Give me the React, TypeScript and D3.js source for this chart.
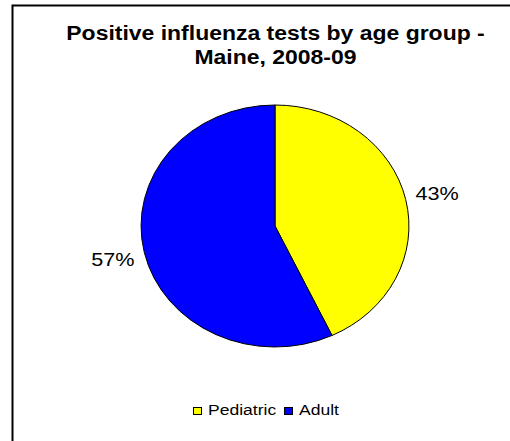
import React from "react";
import * as d3 from "d3";

const categories = ["Pediatric", "Adult"];
const values = [43, 57];
const colors = ["#FFFF00", "#0000FF"];
const titleLines = ["Positive influenza tests by age group -", "Maine, 2008-09"];

const W = 510;
const H = 441;
const cx = 275;
const cy = 226;
const ry = 121;
const sx = 1.107; // horizontal stretch of the pie
const ts = 1.17; // horizontal stretch of text
const FONT = "Arial, 'Liberation Sans', Helvetica, sans-serif";

export default function App() {
  const total = d3.sum(values);
  const pie = d3.pie<number>().sort(null).value((d) => d)(values);
  const arc = d3.arc<d3.PieArcDatum<number>>().innerRadius(0).outerRadius(ry);
  const labelR = 150;

  return (
    <svg
      width={W}
      height={H}
      style={{ position: "absolute", left: 0, top: 0, background: "#fff" }}
    >
      <rect x={0} y={0} width={W} height={H} fill="#fff" />
      <path d={`M12.5,${H} V5.5 H${W}`} fill="none" stroke="#000" strokeWidth={2} />
      {titleLines.map((t, i) => (
        <text
          key={i}
          transform={`translate(275.5,${40 + i * 24}) scale(1.19,1)`}
          textAnchor="middle"
          fontFamily={FONT}
          fontWeight="bold"
          fontSize={19.3}
          fill="#000"
        >
          {t}
        </text>
      ))}
      <g transform={`translate(${cx},${cy}) scale(${sx},1)`}>
        {pie.map((d, i) => (
          <path
            key={i}
            d={arc(d) || ""}
            fill={colors[i]}
            stroke="#000"
            strokeWidth={1}
            vectorEffect="non-scaling-stroke"
          />
        ))}
      </g>
      {pie.map((d, i) => {
        const a = (d.startAngle + d.endAngle) / 2;
        const x = cx + Math.sin(a) * labelR * sx;
        const y = cy - Math.cos(a) * labelR;
        return (
          <text
            key={i}
            transform={`translate(${x},${y + 7}) scale(${ts},1)`}
            textAnchor="middle"
            fontFamily={FONT}
            fontSize={18.5}
            fill="#000"
          >
            {`${Math.round((values[i] / total) * 100)}%`}
          </text>
        );
      })}
      <g>
        {categories.map((c, i) => {
          const x0 = i === 0 ? 193 : 284;
          return (
            <g key={c}>
              <rect
                x={x0 + 0.5}
                y={407.5}
                width={8}
                height={7}
                fill={colors[i]}
                stroke="#000"
                strokeWidth={1}
              />
              <text
                transform={`translate(${x0 + 15},${415}) scale(${ts},1)`}
                fontFamily={FONT}
                fontSize={15}
                fill="#000"
              >
                {c}
              </text>
            </g>
          );
        })}
      </g>
    </svg>
  );
}
